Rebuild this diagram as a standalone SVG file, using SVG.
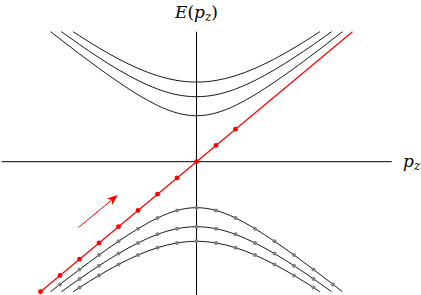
<svg xmlns="http://www.w3.org/2000/svg" xmlns:xlink="http://www.w3.org/1999/xlink" width="421" height="295" viewBox="0 0 421 295">
<style>
.ax{stroke:#000;stroke-width:1;fill:none}
.cv{stroke:#000;stroke-width:0.9;fill:none}
.red{stroke:#f00;stroke-width:1.2;fill:none}
.rd{fill:#f00}
.gd{fill:#808080}
.lbl{font-family:"DejaVu Serif","Liberation Serif",serif;font-size:17px;fill:#000}
.it{font-style:italic}
</style>
<defs>
<path id="h1" vector-effect="non-scaling-stroke" d="M-7.4833,8 C-6.9889,7.5375 -6.4944,7.0804 -6,6.6332 C-5.3333,6.0302 -4.6667,5.4433 -4,4.899 C-3.3333,4.3547 -2.6667,3.849 -2,3.4641 C-1.6667,3.2716 -1.3333,3.1111 -1,3 C-0.6667,2.8889 -0.3333,2.8284 0,2.8284 C0.3333,2.8284 0.6667,2.8889 1,3 C1.3333,3.1111 1.6667,3.2716 2,3.4641 C2.6667,3.849 3.3333,4.3547 4,4.899 C4.6667,5.4433 5.3333,6.0302 6,6.6332 C6.4944,7.0804 6.9889,7.5375 7.4833,8"/>
<path id="h2" vector-effect="non-scaling-stroke" d="M-6.9282,8 C-6.6188,7.7321 -6.3094,7.4686 -6,7.2111 C-5.3333,6.6564 -4.6667,6.1283 -4,5.6569 C-3.3333,5.1855 -2.6667,4.7702 -2,4.4721 C-1.6667,4.323 -1.3333,4.2039 -1,4.1231 C-0.6667,4.0423 -0.3333,4 0,4 C0.3333,4 0.6667,4.0423 1,4.1231 C1.3333,4.2039 1.6667,4.323 2,4.4721 C2.6667,4.7702 3.3333,5.1855 4,5.6569 C4.6667,6.1283 5.3333,6.6564 6,7.2111 C6.3094,7.4686 6.6188,7.7321 6.9282,8"/>
<path id="h3" vector-effect="non-scaling-stroke" d="M-6.3246,8 C-6.2164,7.9145 -6.1082,7.8298 -6,7.746 C-5.3333,7.2296 -4.6667,6.7463 -4,6.3246 C-3.3333,5.9029 -2.6667,5.5435 -2,5.2915 C-1.6667,5.1655 -1.3333,5.0667 -1,5 C-0.6667,4.9333 -0.3333,4.899 0,4.899 C0.3333,4.899 0.6667,4.9333 1,5 C1.3333,5.0667 1.6667,5.1655 2,5.2915 C2.6667,5.5435 3.3333,5.9029 4,6.3246 C4.6667,6.7463 5.3333,7.2296 6,7.746 C6.1082,7.8298 6.2164,7.9145 6.3246,8"/>
<marker id="ah" markerUnits="userSpaceOnUse" orient="auto" refX="0" refY="0" markerWidth="12" markerHeight="10" overflow="visible">
<path d="M7,0 L-3.5,-4.2 L-0.8,0 L-3.5,4.2 Z" fill="#f00"/>
</marker>
</defs>

<g id="axes">
<line class="ax" x1="1.5" y1="161.7" x2="391.7" y2="161.7"/>
<line class="ax" x1="196.5" y1="31.7" x2="196.5" y2="296"/>
</g>

<g id="upper-bands" class="cv" transform="translate(196.5 161.7) scale(19.5 -16.25)">
<use xlink:href="#h1"/>
<use xlink:href="#h2"/>
<use xlink:href="#h3"/>
</g>
<g id="lower-bands" class="cv" transform="translate(196.5 161.7) scale(19.5 16.25)">
<use xlink:href="#h1"/>
<use xlink:href="#h2"/>
<use xlink:href="#h3"/>
</g>

<g id="connectors">
<line class="red" x1="40.5" y1="291.7" x2="352.5" y2="31.7"/>
<line class="red" x1="78.7" y1="227.3" x2="112.3" y2="199.5" style="stroke-width:1" marker-end="url(#ah)"/>
</g>

<g id="gray-dots" class="gd">
<circle cx="60" cy="284.38" r="2"/><circle cx="79.5" cy="269.49" r="2"/><circle cx="99" cy="255.05" r="2"/><circle cx="118.5" cy="241.31" r="2"/><circle cx="138" cy="228.7" r="2"/><circle cx="157.5" cy="217.99" r="2"/><circle cx="177" cy="210.45" r="2"/><circle cx="196.5" cy="207.66" r="2"/><circle cx="216" cy="210.45" r="2"/><circle cx="235.5" cy="217.99" r="2"/><circle cx="255" cy="228.7" r="2"/><circle cx="274.5" cy="241.31" r="2"/><circle cx="294" cy="255.05" r="2"/><circle cx="313.5" cy="269.49" r="2"/><circle cx="333" cy="284.38" r="2"/>
<circle cx="79.5" cy="278.88" r="2"/><circle cx="99" cy="265.75" r="2"/><circle cx="118.5" cy="253.62" r="2"/><circle cx="138" cy="242.95" r="2"/><circle cx="157.5" cy="234.37" r="2"/><circle cx="177" cy="228.7" r="2"/><circle cx="196.5" cy="226.7" r="2"/><circle cx="216" cy="228.7" r="2"/><circle cx="235.5" cy="234.37" r="2"/><circle cx="255" cy="242.95" r="2"/><circle cx="274.5" cy="253.62" r="2"/><circle cx="294" cy="265.75" r="2"/><circle cx="313.5" cy="278.88" r="2"/>
<circle cx="79.5" cy="287.57" r="2"/><circle cx="99" cy="275.45" r="2"/><circle cx="118.5" cy="264.47" r="2"/><circle cx="138" cy="255.05" r="2"/><circle cx="157.5" cy="247.69" r="2"/><circle cx="177" cy="242.95" r="2"/><circle cx="196.5" cy="241.31" r="2"/><circle cx="216" cy="242.95" r="2"/><circle cx="235.5" cy="247.69" r="2"/><circle cx="255" cy="255.05" r="2"/><circle cx="274.5" cy="264.47" r="2"/><circle cx="294" cy="275.45" r="2"/><circle cx="313.5" cy="287.57" r="2"/>
</g>

<g id="red-dots" class="rd">
<circle cx="40.5" cy="291.7" r="2.4"/><circle cx="60" cy="275.45" r="2.4"/><circle cx="79.5" cy="259.2" r="2.4"/><circle cx="99" cy="242.95" r="2.4"/><circle cx="118.5" cy="226.7" r="2.4"/><circle cx="138" cy="210.45" r="2.4"/><circle cx="157.5" cy="194.2" r="2.4"/><circle cx="177" cy="177.95" r="2.4"/><circle cx="196.5" cy="161.7" r="2.4"/><circle cx="216" cy="145.45" r="2.4"/><circle cx="235.5" cy="129.2" r="2.4"/>
</g>

<g id="label-E">
<text class="lbl" x="175" y="18"><tspan class="it">E</tspan>(<tspan class="it">p</tspan><tspan class="it" font-size="12" dy="3">z</tspan><tspan dy="-3">)</tspan></text>
</g>
<g id="label-pz">
<text class="lbl" x="403" y="167"><tspan class="it">p</tspan><tspan class="it" font-size="12" dy="3">z</tspan></text>
</g>
</svg>
